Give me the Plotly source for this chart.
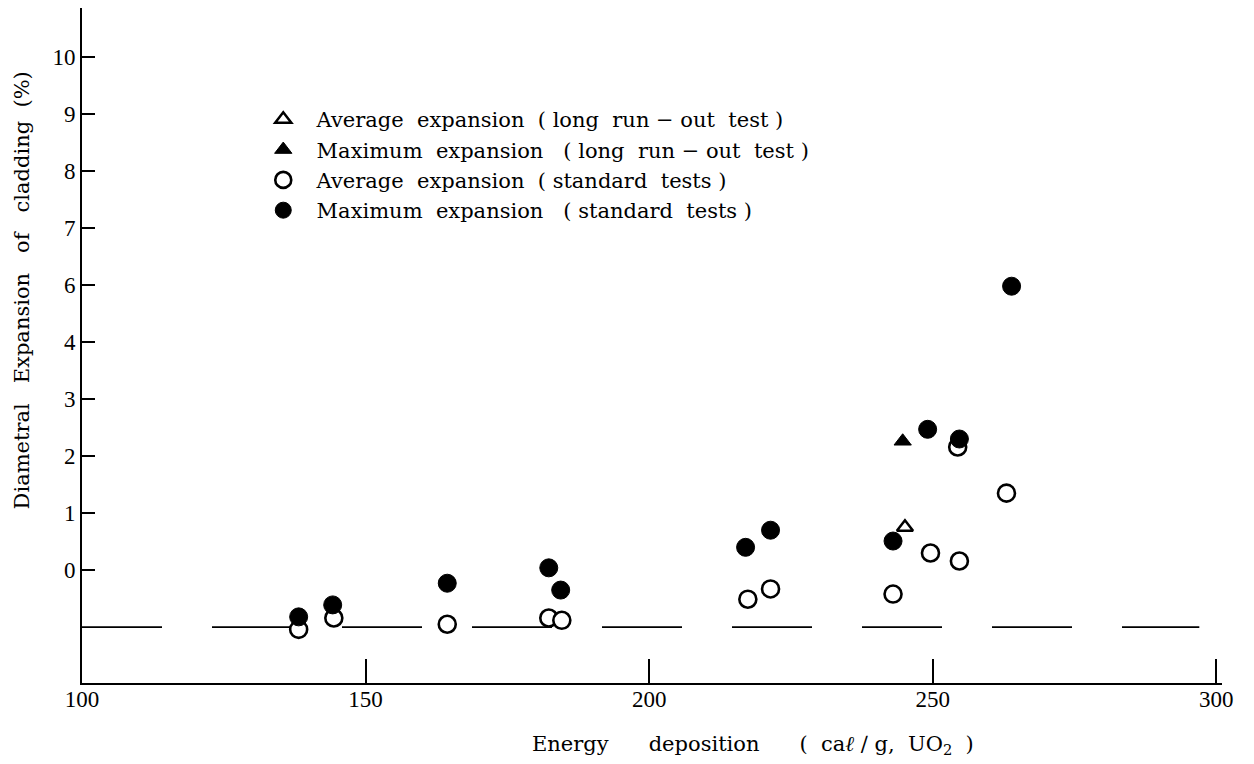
import plotly.graph_objects as go

# ---- data (y in axis-grid units; printed tick labels skip "5") ----
y_tick_pos = [0, 1, 2, 3, 4, 5, 6, 7, 8, 9]
y_tick_text = ["0", "1", "2", "3", "4", "6", "7", "8", "9", "10"]
x_tick_vals = [100, 150, 200, 250, 300]

std_avg_x = [138.2, 144.4, 164.4, 182.3, 184.6, 217.4, 221.4, 243.0, 249.6, 254.7, 254.4, 263.0]
std_avg_y = [-1.04, -0.84, -0.95, -0.84, -0.88, -0.51, -0.33, -0.42, 0.30, 0.16, 2.16, 1.35]

std_max_x = [138.2, 144.2, 164.4, 182.3, 184.4, 217.0, 221.4, 243.0, 249.1, 254.7, 263.9]
std_max_y = [-0.82, -0.61, -0.23, 0.04, -0.35, 0.40, 0.70, 0.51, 2.47, 2.30, 4.98]

long_avg_x = [245.1]
long_avg_y = [0.75]
long_max_x = [244.7]
long_max_y = [2.26]

baseline_x = [100, 297]
baseline_y = [-1.0, -1.0]

SERIF = "Liberation Serif, Times New Roman, serif"
WIDE = "DejaVu Serif, serif"

fig = go.Figure()

fig.add_trace(go.Scatter(
    x=baseline_x, y=baseline_y, mode="lines",
    line=dict(color="black", width=1.6, dash="80px,50px"),
    showlegend=False, hoverinfo="skip"))

fig.add_trace(go.Scatter(
    x=long_avg_x, y=long_avg_y, mode="markers",
    name="  Average  expansion  ( long  run − out  test )",
    legendgroup="a", legendrank=1,
    marker=dict(symbol="triangle-up", size=14, color="white",
                line=dict(color="black", width=2.5))))

fig.add_trace(go.Scatter(
    x=long_max_x, y=long_max_y, mode="markers",
    name="  Maximum  expansion   ( long  run − out  test )",
    legendgroup="b", legendrank=2,
    marker=dict(symbol="triangle-up", size=15, color="black",
                line=dict(color="black", width=1))))

fig.add_trace(go.Scatter(
    x=std_avg_x, y=std_avg_y, mode="markers",
    name="  Average  expansion  ( standard  tests )",
    legendgroup="c", legendrank=3,
    marker=dict(symbol="circle", size=17, color="white",
                line=dict(color="black", width=2.6))))

fig.add_trace(go.Scatter(
    x=std_max_x, y=std_max_y, mode="markers",
    name="  Maximum  expansion   ( standard  tests )",
    legendgroup="d", legendrank=4,
    marker=dict(symbol="circle", size=18, color="black",
                line=dict(color="black", width=1))))

fig.update_layout(
    width=1254, height=764,
    margin=dict(l=82, r=32, t=8, b=81),
    paper_bgcolor="white", plot_bgcolor="white",
    font=dict(family=SERIF, color="black", size=22),
    showlegend=True,
    legend=dict(x=0.159, y=0.865, xanchor="left", yanchor="top",
                bgcolor="rgba(0,0,0,0)", font=dict(family=WIDE, size=21),
                tracegroupgap=0, itemsizing="trace"),
    xaxis=dict(range=[100, 301], tickvals=x_tick_vals,
               ticktext=[str(v) for v in x_tick_vals],
               ticks="inside", ticklen=24, tickwidth=1.5, tickcolor="black",
               showline=True, linecolor="black", linewidth=2,
               showgrid=False, zeroline=False, ticklabelstandoff=-6,
               tickfont=dict(family=SERIF, size=23)),
    yaxis=dict(range=[-1.98, 9.86], tickvals=y_tick_pos, ticktext=y_tick_text,
               ticks="inside", ticklen=13, tickwidth=2, tickcolor="black",
               showline=True, linecolor="black", linewidth=2,
               showgrid=False, zeroline=False,
               tickfont=dict(family=SERIF, size=23)),
    annotations=[
        dict(text="Energy      deposition      (  ca<i>ℓ</i> ∕ g,  UO<sub>2</sub>  )",
             xref="paper", yref="paper", x=0.589, y=-0.092,
             xanchor="center", yanchor="middle", showarrow=False,
             font=dict(family=WIDE, size=21)),
        dict(text="Diametral   Expansion   of   cladding  (%)",
             xref="paper", yref="paper", x=-0.053, y=0.581,
             xanchor="center", yanchor="middle", showarrow=False,
             textangle=-90, font=dict(family=WIDE, size=21)),
    ],
)

fig.write_html("out.html")
